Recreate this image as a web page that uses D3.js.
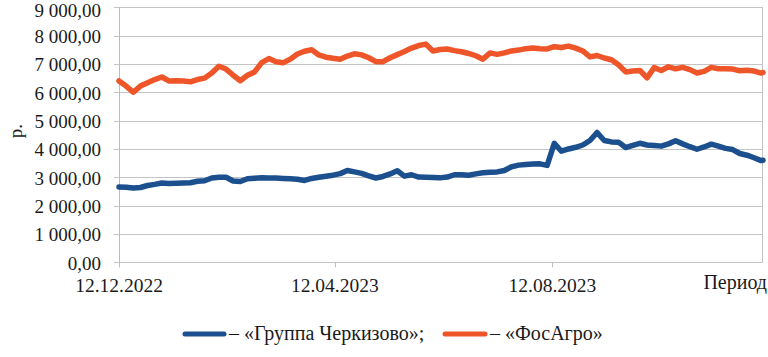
<!DOCTYPE html>
<html><head><meta charset="utf-8">
<script src="https://cdn.jsdelivr.net/npm/d3@7/dist/d3.min.js"></script>
<style>
html, body { margin: 0; padding: 0; background: #fff; }
#chart text, #chart .lbl { font-family: 'Liberation Serif', 'Times New Roman', Tinos !important; }
</style>
</head><body>
<svg id="chart" width="768" height="357"></svg>
<script>
const dates = ["2022-12-12","2022-12-16","2022-12-20","2022-12-24","2022-12-28",
"2023-01-01","2023-01-05","2023-01-09","2023-01-13","2023-01-17","2023-01-21","2023-01-25","2023-01-29",
"2023-02-02","2023-02-06","2023-02-10","2023-02-14","2023-02-18","2023-02-22","2023-02-26",
"2023-03-02","2023-03-06","2023-03-10","2023-03-14","2023-03-18","2023-03-22","2023-03-26","2023-03-30",
"2023-04-03","2023-04-07","2023-04-11","2023-04-15","2023-04-19","2023-04-23","2023-04-27",
"2023-05-01","2023-05-05","2023-05-09","2023-05-13","2023-05-17","2023-05-21","2023-05-25","2023-05-29",
"2023-06-02","2023-06-06","2023-06-10","2023-06-14","2023-06-18","2023-06-22","2023-06-26","2023-06-30",
"2023-07-04","2023-07-08","2023-07-12","2023-07-16","2023-07-20","2023-07-24","2023-07-28",
"2023-08-01","2023-08-05","2023-08-09","2023-08-13","2023-08-17","2023-08-21","2023-08-25","2023-08-29",
"2023-09-02","2023-09-06","2023-09-10","2023-09-14","2023-09-18","2023-09-22","2023-09-26","2023-09-30",
"2023-10-04","2023-10-08","2023-10-12","2023-10-16","2023-10-20","2023-10-24","2023-10-28",
"2023-11-01","2023-11-05","2023-11-09","2023-11-13","2023-11-17","2023-11-21","2023-11-25","2023-11-29",
"2023-12-03","2023-12-07","2023-12-08"];

const cherkizovo = [2660,2650,2620,2640,2710,
2750,2800,2780,2790,2800,2810,2860,2880,
2975,3000,3000,2870,2850,2950,2970,
2980,2975,2975,2960,2950,2930,2890,2960,
3000,3040,3075,3130,3240,3190,3140,
3050,2975,3030,3120,3230,3040,3090,3010,
3000,2990,2980,3010,3090,3090,3070,3120,
3160,3180,3190,3240,3370,3430,3455,
3470,3475,3420,4200,3920,4000,4060,4140,
4300,4580,4300,4250,4240,4050,4130,4200,
4140,4120,4100,4180,4290,4180,4080,
3990,4070,4170,4100,4020,3980,3840,3780,
3690,3590,3600];

const phosagro = [6400,6220,6000,6220,6340,
6450,6540,6400,6410,6400,6370,6450,6500,
6680,6920,6820,6600,6410,6600,6720,
7050,7190,7080,7040,7170,7350,7450,7500,
7320,7240,7200,7170,7280,7360,7320,
7220,7080,7080,7220,7330,7440,7560,7650,
7700,7460,7510,7530,7470,7430,7370,7290,
7170,7390,7340,7390,7460,7490,7540,
7560,7540,7530,7610,7580,7630,7560,7460,
7250,7300,7210,7150,6970,6720,6750,6770,
6510,6870,6770,6900,6830,6880,6800,
6680,6740,6880,6830,6830,6820,6760,6780,
6750,6680,6700];

const seriesNames = ["«Группа Черкизово»", "«ФосАгро»"];
const seriesColors = ["#1b4f8e", "#ee5528"];
const xTickDates = ["2022-12-12","2023-04-12","2023-08-12"];
const xTickLabels = ["12.12.2022","12.04.2023","12.08.2023"];
const yTicks = [0,1000,2000,3000,4000,5000,6000,7000,8000,9000];
const yAxisTitle = "р.";
const xAxisTitle = "Период";

const parse = d3.utcParse("%Y-%m-%d");
const svg = d3.select("#chart");
const pL = 119, pR = 763, pT = 7.3, pB = 262.3;

const x = d3.scaleUtc().domain([parse(dates[0]), parse(dates[dates.length-1])]).range([pL, pR]);
const y = d3.scaleLinear().domain([0, 9000]).range([pB, pT]);

const loc = d3.formatLocale({decimal: ",", thousands: " ", grouping: [3], currency: ["", ""]});
const fmt = loc.format(",.2f");

// gridlines
svg.append("g").selectAll("line").data(yTicks).join("line")
  .attr("x1", pL - 5).attr("x2", pR)
  .attr("y1", d => Math.round(y(d)) + 0.5).attr("y2", d => Math.round(y(d)) + 0.5)
  .attr("stroke", "#c4c4c4").attr("stroke-width", 1);

// left axis line and right border
svg.append("line").attr("x1", pL + 0.5).attr("x2", pL + 0.5).attr("y1", pT).attr("y2", pB + 5)
  .attr("stroke", "#bdbdbd");
svg.append("line").attr("x1", pR - 0.5).attr("x2", pR - 0.5).attr("y1", pT).attr("y2", pB)
  .attr("stroke", "#c4c4c4");

// x ticks
const xTicks = xTickDates.map(parse);
svg.append("g").selectAll("line").data(xTicks).join("line")
  .attr("x1", d => Math.round(x(d)) + 0.5).attr("x2", d => Math.round(x(d)) + 0.5)
  .attr("y1", pB).attr("y2", pB + 5).attr("stroke", "#bdbdbd");

function txt(sel, size) {
  return sel.attr("class", "lbl")
    .attr("font-family", "Liberation Serif")
    .attr("font-size", size).attr("fill", "#1a1a1a");
}

// y labels
txt(svg.append("g").selectAll("text").data(yTicks).join("text")
  .attr("x", 101).attr("y", d => Math.max(y(d) + 7.5, 17))
  .attr("text-anchor", "end"), 19)
  .text(d => fmt(d));

// x labels
txt(svg.append("g").selectAll("text").data(xTicks).join("text")
  .attr("x", d => x(d)).attr("y", 292)
  .attr("text-anchor", "middle"), 19.5)
  .text((d, i) => xTickLabels[i]);

txt(svg.append("text").attr("x", 767).attr("y", 289).attr("text-anchor", "end"), 20).text(xAxisTitle);

txt(svg.append("text").attr("transform", "translate(22,131) rotate(-90)")
  .attr("text-anchor", "middle"), 19).text(yAxisTitle);

// lines
const line = d3.line().x(d => x(d[0])).y(d => y(d[1])).curve(d3.curveLinear);
const ds = dates.map(parse);
[cherkizovo, phosagro].forEach((vals, k) => {
  svg.append("path").datum(ds.map((d, i) => [d, vals[i]]))
    .attr("d", line).attr("fill", "none").attr("stroke", seriesColors[k])
    .attr("stroke-width", 5.5).attr("stroke-linejoin", "round").attr("stroke-linecap", "round");
});

// legend
const legendItems = [
  {x1: 185, x2: 224, tx: 229, label: "– " + seriesNames[0] + ";"},
  {x1: 445, x2: 485, tx: 490, label: "– " + seriesNames[1]}
];
const lg = svg.append("g");
legendItems.forEach((it, k) => {
  lg.append("line").attr("x1", it.x1).attr("x2", it.x2).attr("y1", 334).attr("y2", 334)
    .attr("stroke", seriesColors[k]).attr("stroke-width", 5).attr("stroke-linecap", "round");
  txt(lg.append("text").attr("x", it.tx).attr("y", 340), 20).text(it.label);
});
</script>
</body></html>
